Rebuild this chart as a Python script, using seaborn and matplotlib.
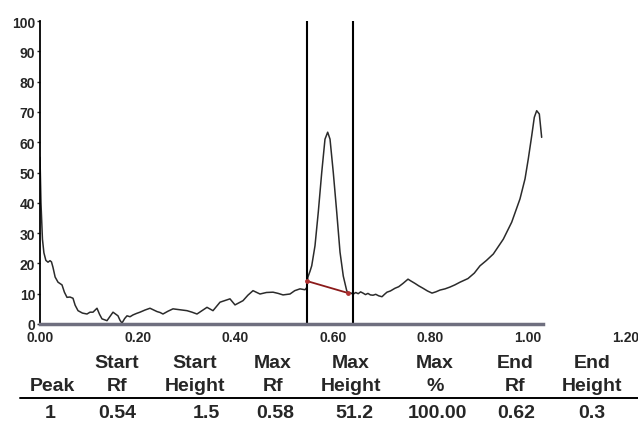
import matplotlib
matplotlib.use("Agg")
import matplotlib.pyplot as plt
from matplotlib.lines import Line2D
import seaborn as sns

# scan profile
rf = [0.000, 0.002, 0.005, 0.008, 0.012, 0.0164, 0.0205, 0.0235, 0.0266, 0.031,
      0.0369, 0.0451, 0.050, 0.0553, 0.0615, 0.0676, 0.072, 0.0779, 0.087, 0.0963,
      0.1025, 0.1086, 0.1168, 0.122, 0.127, 0.1373, 0.1435, 0.1496, 0.1598, 0.164,
      0.168, 0.1735, 0.1783, 0.1845, 0.1906, 0.198, 0.2049, 0.215, 0.2254, 0.2398,
      0.246, 0.252, 0.262, 0.2725, 0.287, 0.3012, 0.3115, 0.3217, 0.3422, 0.3545,
      0.3689, 0.3893, 0.3996, 0.416, 0.426, 0.4365, 0.4508, 0.464, 0.4775, 0.488,
      0.498, 0.5123, 0.522, 0.5328, 0.543, 0.5465, 0.549,
      0.5535, 0.5568, 0.5635, 0.5703, 0.5773, 0.584, 0.5895, 0.5943, 0.601, 0.608,
      0.6148, 0.6215, 0.6285, 0.6318,
      0.6365, 0.6414, 0.647, 0.652, 0.657, 0.6619, 0.667, 0.672, 0.677, 0.6824,
      0.688, 0.694, 0.7008, 0.706, 0.711, 0.718, 0.7275, 0.735, 0.7439, 0.7541,
      0.760, 0.7684, 0.776, 0.7848, 0.794, 0.8033, 0.811, 0.8197, 0.830, 0.8402,
      0.850, 0.8607, 0.869, 0.877, 0.890, 0.9016, 0.915, 0.9289, 0.9494, 0.9666,
      0.9836, 0.9939, 1.0006, 1.0076, 1.0129, 1.0178, 1.0232, 1.028]
intensity = [55, 40, 28, 23.5, 21, 20.4, 20.9, 20.5, 18.7, 15.5,
             13.8, 12.9, 10.5, 8.8, 8.9, 8.5, 6.2, 4.4, 3.6, 3.3,
             3.9, 3.9, 5.2, 3.2, 1.7, 1.1, 2.5, 3.9, 2.7, 1.2,
             0.3, 1.8, 2.7, 2.4, 3.0, 3.5, 3.9, 4.6, 5.2, 4.1,
             3.8, 3.3, 4.2, 5.0, 4.7, 4.4, 3.9, 3.3, 5.5, 4.4,
             7.2, 8.3, 6.3, 7.7, 9.5, 11.0, 9.9, 10.4, 10.5, 10.1,
             9.6, 9.9, 11.0, 11.6, 11.3, 12.0, 15.5,
             17.5, 19.2, 25.8, 37, 50, 61, 63.3, 61, 50, 37,
             23.7, 15.8, 11, 10.2,
             10.3, 9.8, 10.4, 10.0, 10.6, 10.2, 9.7, 10.1, 9.6, 9.5,
             9.8, 9.3, 9.0, 9.8, 10.5, 10.9, 11.8, 12.3, 13.4, 14.8,
             14.2, 13.4, 12.6, 11.8, 10.9, 10.2, 10.6, 11.2, 11.6, 12.2,
             12.9, 13.8, 14.4, 15.0, 16.8, 19.2, 21.0, 23.1, 28.0, 33.6,
             41.3, 47.9, 54.5, 62.1, 68.2, 70.4, 69.3, 61.6]

# integration window and baseline
peak_start = 0.5465
peak_end = 0.642
baseline_rf = [0.5465, 0.6318]
baseline_h = [14.2, 10.2]

x_ticks = [0.0, 0.2, 0.4, 0.6, 0.8, 1.0, 1.2]
y_ticks = [0, 10, 20, 30, 40, 50, 60, 70, 80, 90, 100]

# peak table
header_top = ["", "Start", "Start", "Max", "Max", "Max", "End", "End"]
header_bottom = ["Peak", "Rf", "Height", "Rf", "Height", "%", "Rf", "Height"]
row_values = ["1", "0.54", "1.5", "0.58", "51.2", "100.00", "0.62", "0.3"]
header_x_px = [52, 117, 195, 273, 351, 435, 515, 592]
value_x_px = [50, 117, 206, 275, 354, 437, 516, 592]

sns.set_style("white")
plt.rcParams["font.family"] = ["Liberation Sans", "DejaVu Sans"]
plt.rcParams["font.weight"] = "bold"

W, H = 638, 427
fig = plt.figure(figsize=(W / 100, H / 100), dpi=100)
ax = fig.add_axes([40 / W, (H - 325) / H, (625.6 - 40) / W, 303 / H])

sns.lineplot(x=rf, y=intensity, sort=False, estimator=None, color="#2b2b2b", lw=1.1, ax=ax)
sns.lineplot(x=baseline_rf, y=baseline_h, sort=False, estimator=None, color="#8b1a1a", lw=1.3, ax=ax)
ax.scatter(baseline_rf, baseline_h, s=6, color="#b03030", zorder=4)
for xv in [peak_start, peak_end]:
    ax.axvline(xv, ymin=0, ymax=1, color="black", lw=1.5)

ax.set_xlim(0, 1.2)
ax.set_ylim(0, 100)
ax.set_xticks(x_ticks)
ax.set_xticklabels([f"{v:.2f}" for v in x_ticks])
ax.set_yticks(y_ticks)
ax.tick_params(axis="x", length=0, pad=4, labelsize=10)
ax.tick_params(axis="y", length=2, width=1, pad=1.5, labelsize=10, direction="out", left=True)
for lbl in ax.get_xticklabels() + ax.get_yticklabels():
    lbl.set_fontweight("bold")

for s in ["top", "right"]:
    ax.spines[s].set_visible(False)
ax.spines["left"].set_color("black")
ax.spines["left"].set_linewidth(1.3)
ax.spines["bottom"].set_color("#6f6f7f")
ax.spines["bottom"].set_linewidth(2.5)
ax.spines["bottom"].set_bounds(0, 1.03)
ax.set_xlabel("")
ax.set_ylabel("")

# table below the plot
fy = lambda y: 1 - y / H
for x, t in zip(header_x_px, header_top):
    fig.text(x / W, fy(364), t, ha="center", va="center", fontsize=14, fontweight="bold")
for x, t in zip(header_x_px, header_bottom):
    fig.text(x / W, fy(387), t, ha="center", va="center", fontsize=14, fontweight="bold")
for x, t in zip(value_x_px, row_values):
    fig.text(x / W, fy(414), t, ha="center", va="center", fontsize=14, fontweight="bold")
fig.add_artist(Line2D([20 / W, 1.0], [fy(399), fy(399)], color="black", lw=1.4))

fig.savefig("out.png", dpi=100)
